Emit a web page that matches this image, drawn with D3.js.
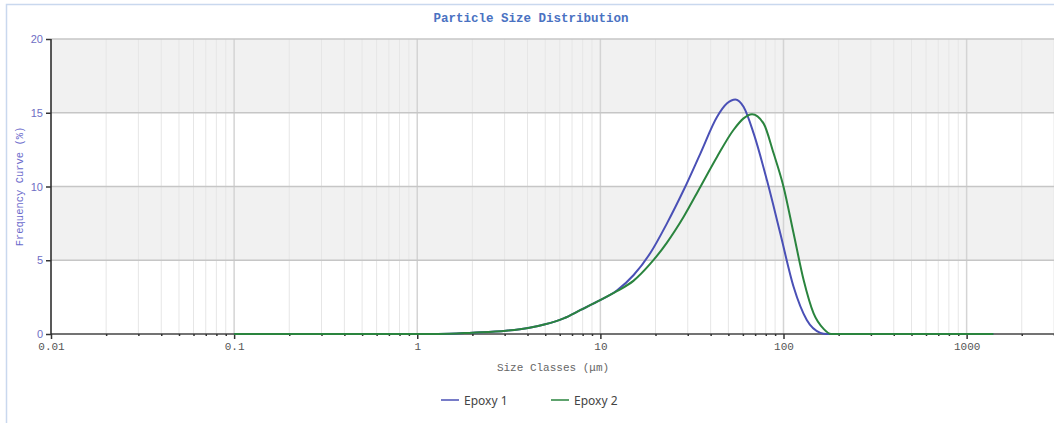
<!DOCTYPE html>
<html>
<head>
<meta charset="utf-8">
<script src="https://cdn.jsdelivr.net/npm/d3@7"></script>
<style>
  body { margin: 0; background: #fff; }
  svg { display: block; }
</style>
</head>
<body>
<svg id="chart"></svg>
<script>
// size classes (um) and frequency (%)
const sizes1 = [0.1, 1.3, 2.0, 3.05, 4.1, 5.0, 6.3, 7.8, 9.6, 12.3, 15.2, 18.7, 23.1, 28.5, 35.2, 43.4, 49.2, 54.6, 60.5, 68.7, 81.3, 96, 113.5, 134, 159, 172, 1400];
const epoxy1 = [0, 0, 0.09, 0.22, 0.43, 0.66, 1.06, 1.63, 2.19, 2.95, 4.0, 5.47, 7.5, 9.76, 12.25, 14.73, 15.64, 15.9, 15.4, 13.6, 10.4, 6.83, 3.2, 0.95, 0.08, 0, 0];

const sizes2 = [0.1, 1.3, 2.0, 3.05, 4.1, 5.0, 6.3, 7.8, 9.6, 12.3, 15.2, 18.7, 23.1, 28.5, 35.2, 43.4, 53.3, 60.5, 67.3, 77.8, 88.3, 100, 113.5, 128.8, 146, 165.6, 182, 1400];
const epoxy2 = [0, 0, 0.09, 0.22, 0.43, 0.66, 1.06, 1.63, 2.19, 2.9, 3.62, 4.75, 6.2, 7.95, 9.99, 12.02, 13.83, 14.62, 14.9, 14.28, 12.25, 9.99, 6.83, 3.66, 1.4, 0.35, 0, 0];

const seriesNames = ["Epoxy 1", "Epoxy 2"];
const seriesColors = ["#4a50b6", "#2a843e"];

const xTickValues = [0.01, 0.1, 1, 10, 100, 1000];
const xTickLabels = ["0.01", "0.1", "1", "10", "100", "1000"];
const yTickValues = [0, 5, 10, 15, 20];

const width = 1054, height = 423;
const margin = { top: 39, right: 0, bottom: 89, left: 51 };

const svg = d3.select("#chart").attr("width", width).attr("height", height);

// panel border
svg.append("path")
  .attr("d", `M6.5,${height}V4.5H${width}`)
  .attr("fill", "none")
  .attr("stroke", "#c9d8ee")
  .attr("stroke-width", 1.5);

const x = d3.scaleLog().domain([0.01, 3000]).range([margin.left, width - margin.right]);
const y = d3.scaleLinear().domain([0, 20]).range([height - margin.bottom, margin.top]);

const plot = svg.append("g");

// alternating bands
[[5, 10], [15, 20]].forEach(b => {
  plot.append("rect")
    .attr("x", x(0.01))
    .attr("y", y(b[1]))
    .attr("width", x(3000) - x(0.01))
    .attr("height", y(b[0]) - y(b[1]))
    .attr("fill", "#f1f1f1");
});

// vertical grid
const minor = [];
for (let e = -2; e <= 3; e++) {
  for (let m = 1; m <= 9; m++) {
    const v = m * Math.pow(10, e);
    if (v <= 3000 && v > 0.01) minor.push(v);
  }
}
plot.selectAll(".vgrid")
  .data(minor)
  .join("line")
  .attr("class", "vgrid")
  .attr("x1", d => x(d)).attr("x2", d => x(d))
  .attr("y1", y(20)).attr("y2", y(0))
  .attr("stroke", d => xTickValues.includes(d) ? "#d4d4d4" : "#e6e6e6")
  .attr("stroke-width", d => xTickValues.includes(d) ? 1.5 : 1);

// horizontal grid
plot.selectAll(".hgrid")
  .data(yTickValues.filter(d => d > 0))
  .join("line")
  .attr("class", "hgrid")
  .attr("x1", x(0.01)).attr("x2", width)
  .attr("y1", d => y(d)).attr("y2", d => y(d))
  .attr("stroke", "#c6c6c6")
  .attr("stroke-width", 1.5);

// axes
const xAxis = d3.axisBottom(x)
  .tickValues(minor.concat([0.01]))
  .tickSize(3)
  .tickFormat(d => {
    const i = xTickValues.indexOf(+d.toPrecision(6));
    return i >= 0 ? xTickLabels[i] : "";
  });

const xAxisG = svg.append("g")
  .attr("transform", `translate(0,${y(0)})`)
  .call(xAxis);
xAxisG.select(".domain").attr("stroke", "#444").attr("stroke-width", 1.5).attr("d", `M${x(0.01)},0H${width}`);
xAxisG.selectAll(".tick line")
  .attr("stroke", "#333")
  .attr("stroke-width", 1.5)
  .attr("y2", d => xTickValues.includes(+d.toPrecision(6)) ? 5 : 2);
xAxisG.selectAll(".tick text")
  .attr("y", 8)
  .attr("font-family", "Liberation Mono, monospace")
  .attr("font-size", 11)
  .attr("fill", "#555");

const yAxis = d3.axisLeft(y).tickValues(yTickValues).tickSize(5).tickPadding(3);
const yAxisG = svg.append("g")
  .attr("transform", `translate(${x(0.01)},0)`)
  .call(yAxis);
yAxisG.select(".domain").attr("stroke", "#222").attr("stroke-width", 1.5).attr("d", `M0,${y(20)}V${y(0)}`);
yAxisG.selectAll(".tick line").attr("stroke", "#333").attr("stroke-width", 1.5);
yAxisG.selectAll(".tick text")
  .attr("font-family", "Liberation Sans, Arial, sans-serif")
  .attr("font-size", 11)
  .attr("fill", "#6e6ec4");

// curves
const line = d3.line()
  .x(d => x(d[0]))
  .y(d => y(d[1]))
  .curve(d3.curveMonotoneX);

const data = [
  sizes1.map((s, i) => [s, epoxy1[i]]),
  sizes2.map((s, i) => [s, epoxy2[i]])
];

svg.append("g").selectAll("path")
  .data(data)
  .join("path")
  .attr("d", line)
  .attr("fill", "none")
  .attr("stroke", (d, i) => seriesColors[i])
  .attr("stroke-width", 2);

// title
svg.append("text")
  .attr("x", 531).attr("y", 22)
  .attr("text-anchor", "middle")
  .attr("font-family", "Liberation Mono, monospace")
  .attr("font-weight", "bold")
  .attr("font-size", 12.5)
  .attr("fill", "#4a72c2")
  .text("Particle Size Distribution");

// axis titles
svg.append("text")
  .attr("transform", `translate(23,${y(10)}) rotate(-90)`)
  .attr("text-anchor", "middle")
  .attr("font-family", "Liberation Mono, monospace")
  .attr("font-size", 10.5)
  .attr("fill", "#6a6acb")
  .text("Frequency Curve (%)");

svg.append("text")
  .attr("x", 553).attr("y", 371)
  .attr("text-anchor", "middle")
  .attr("font-family", "Liberation Mono, monospace")
  .attr("font-size", 11)
  .attr("fill", "#666")
  .text("Size Classes (μm)");

// legend
const legendX = [441, 551];
const legend = svg.append("g").selectAll("g")
  .data(seriesNames)
  .join("g")
  .attr("transform", (d, i) => `translate(${legendX[i]},400)`);
legend.append("line")
  .attr("x1", 0).attr("x2", 18)
  .attr("stroke", (d, i) => seriesColors[i])
  .attr("stroke-width", 1.5);
legend.append("text")
  .attr("x", 23).attr("y", 5)
  .attr("font-family", "Noto Sans, sans-serif")
  .attr("font-size", 12)
  .attr("fill", "#444")
  .text(d => d);
</script>
</body>
</html>
